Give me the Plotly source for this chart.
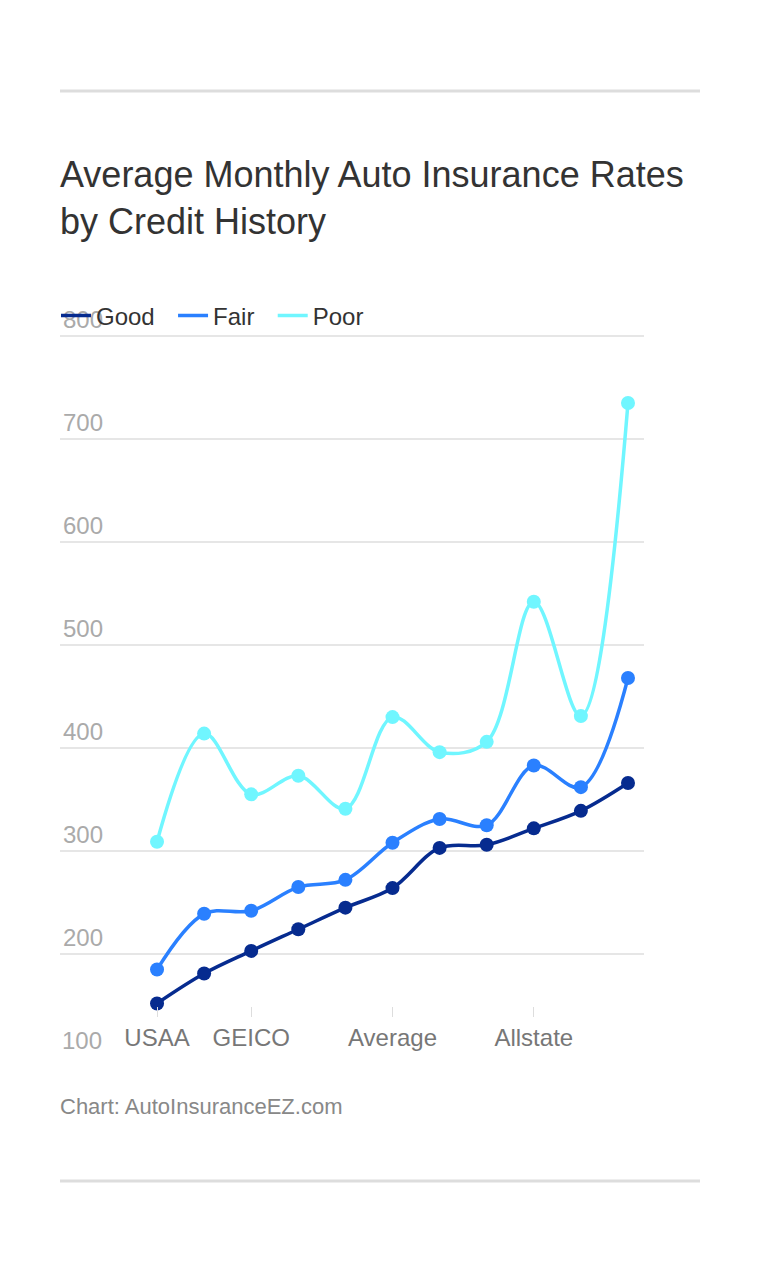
import plotly.graph_objects as go

categories = ["USAA", "State Farm", "GEICO", "Nationwide", "Progressive", "Average",
              "American Family", "Travelers", "Allstate", "Farmers", "Liberty Mutual"]
good = [152, 181, 203, 224, 245, 264, 303, 306, 322, 339, 366]
fair = [185, 239, 242, 265, 272, 308, 331, 325, 383, 362, 468]
poor = [309, 414, 355, 373, 341, 430, 396, 406, 542, 431, 735]
shown_x_labels = ["USAA", "GEICO", "Average", "Allstate"]
y_ticks = [200, 300, 400, 500, 600, 700, 800]

series = [("Good", good, "#062b8f"), ("Fair", fair, "#2a80ff"), ("Poor", poor, "#70f6ff")]

FONT = "Liberation Sans, Arial, sans-serif"
OFF = 8  # page body margin
NBSP = "\u00a0"

fig = go.Figure()
for name, vals, col in series:
    fig.add_trace(go.Scatter(
        x=categories, y=vals, mode="lines+markers", name=name, showlegend=False,
        line=dict(color=col, width=3.5, shape="spline", smoothing=1),
        marker=dict(color=col, size=14), cliponaxis=False))
for name, vals, col in series:
    fig.add_trace(go.Scatter(
        x=[None], y=[None], mode="lines", name=name + NBSP * 2,
        line=dict(color=col, width=3.5)))

W, H = 744, 1258
# page-coordinate geometry
P_LEFT, P_RIGHT, P_TOP, P_BOTTOM = 60, 644, 300, 1006
L = P_LEFT - OFF
R = W - (P_RIGHT - OFF)
T = P_TOP - OFF
B = H - (P_BOTTOM - OFF)
pw, ph = W - L - R, H - T - B

def px(xpage):
    return (xpage - P_LEFT) / pw

def py(ypage):
    return (P_BOTTOM - ypage) / ph

fig.update_layout(
    width=W, height=H,
    margin=dict(l=L, r=R, t=T, b=B, pad=0),
    paper_bgcolor="white", plot_bgcolor="white",
    font=dict(family=FONT, color="#333"),
    title=dict(text="Average Monthly Auto Insurance Rates<br>by Credit History",
               x=L / W, xanchor="left", xref="container",
               y=1 - 179 / H, yanchor="top", yref="container",
               font=dict(size=36, color="#333", family=FONT)),
    legend=dict(orientation="h", x=px(56), xanchor="left", y=py(316), yanchor="middle",
                font=dict(size=24, color="#333", family=FONT),
                bgcolor="rgba(0,0,0,0)", itemwidth=30),
    xaxis=dict(type="category", range=[-2.06, 10.34],
               tickmode="array", tickvals=shown_x_labels, ticktext=shown_x_labels,
               ticks="outside", ticklen=10, tickcolor="#dddddd", tickwidth=1,
               ticklabelstandoff=0,
               tickfont=dict(size=24, color="#777", family=FONT),
               showgrid=False, showline=False, zeroline=False),
    yaxis=dict(range=[149.5, 835], tickmode="array", tickvals=y_ticks,
               ticklabelposition="inside top",
               tickfont=dict(size=24, color="#aaaaaa", family=FONT),
               showgrid=True, gridcolor="#e6e6e6", gridwidth=2,
               showline=False, zeroline=False),
    showlegend=True,
)

fig.add_annotation(text="100", xref="paper", yref="paper", x=px(60), y=py(1040),
                   xanchor="left", yanchor="middle", showarrow=False,
                   font=dict(size=24, color="#aaaaaa", family=FONT))
fig.add_annotation(text="Chart: AutoInsuranceEZ.com", xref="paper", yref="paper",
                   x=px(58), y=py(1106), xanchor="left", yanchor="middle", showarrow=False,
                   font=dict(size=22, color="#888", family=FONT))
for yy in (91, 1181):
    fig.add_shape(type="line", xref="paper", yref="paper", x0=0, x1=px(700),
                  y0=py(yy), y1=py(yy), line=dict(color="#dddddd", width=3))

fig.write_html("out.html")
